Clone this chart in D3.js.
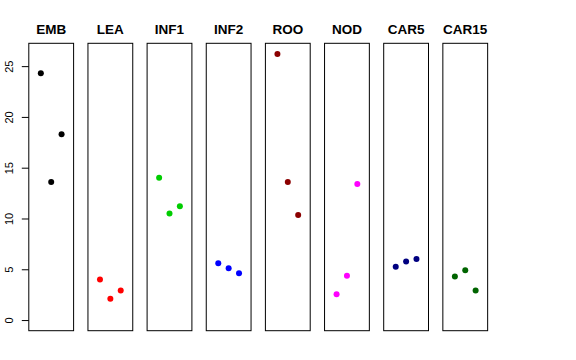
<!DOCTYPE html>
<html><head><meta charset="utf-8">
<script src="https://cdn.jsdelivr.net/npm/d3@7"></script>
<style>body{margin:0;background:#fff}svg{display:block}</style>
</head><body>
<script>
const categories = ["EMB","LEA","INF1","INF2","ROO","NOD","CAR5","CAR15"];
const colors = ["#000000","#FF0000","#00CD00","#0000FF","#8B0000","#FF00FF","#000080","#006400"];
const values = [
  [24.3, 13.6, 18.3],
  [4.0, 2.1, 2.9],
  [14.0, 10.5, 11.2],
  [5.6, 5.1, 4.6],
  [26.2, 13.6, 10.35],
  [2.55, 4.36, 13.4],
  [5.24, 5.77, 6.0],
  [4.3, 4.9, 2.92]
];
const yTicks = [0, 5, 10, 15, 20, 25];

const W = 576, H = 360;
const svg = d3.select("body").append("svg").attr("width", W).attr("height", H);

const yLo = 0, yHi = 26.2, ext = (yHi - yLo) * 0.04;
const y = d3.scaleLinear().domain([yLo - ext, yHi + ext]).range([330.7, 43.3]);
const left0 = 28.8, step = 59.15, pw = 44.8;

categories.forEach((cat, i) => {
  const L = left0 + i * step;
  const x = d3.scaleLinear().domain([-0.16, 4.16]).range([L, L + pw]);
  const g = svg.append("g");
  g.append("rect").attr("x", L).attr("y", y.range()[1]).attr("width", pw)
    .attr("height", y.range()[0] - y.range()[1]).attr("fill", "none")
    .attr("stroke", "#000").attr("stroke-width", 1);
  g.append("text").attr("x", L + pw / 2).attr("y", 34.3).attr("text-anchor", "middle")
    .attr("font-family", "Liberation Sans, Arial, sans-serif").attr("font-weight", "bold")
    .attr("font-size", "13.5px").text(cat);
  g.selectAll("circle").data(values[i]).join("circle")
    .attr("cx", (d, j) => x(j + 1)).attr("cy", d => y(d)).attr("r", 3)
    .attr("fill", colors[i]);
});

const axis = d3.axisLeft(y).tickValues(yTicks).tickSize(7).tickFormat(d3.format("d"));
const ag = svg.append("g").attr("transform", `translate(${left0},0)`).call(axis);
ag.select(".domain").remove();
ag.selectAll(".tick line").attr("stroke", "#000");
ag.selectAll(".tick text")
  .attr("font-family", "Liberation Sans, Arial, sans-serif")
  .attr("font-size", "11px").attr("fill", "#000")
  .attr("text-anchor", "middle").attr("dy", 0)
  .attr("transform", "rotate(-90)").attr("x", 0).attr("y", -15.5);
</script>
</body></html>
